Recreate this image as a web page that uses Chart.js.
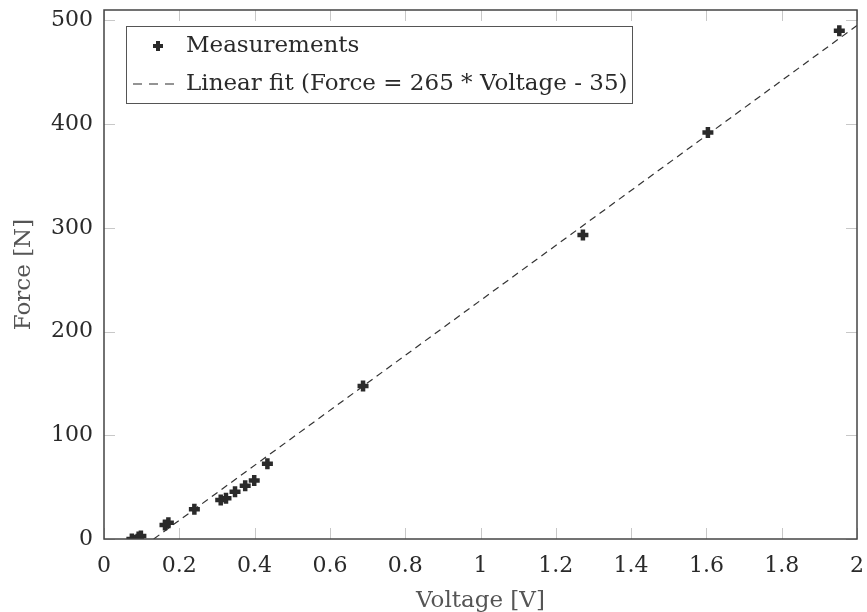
<!DOCTYPE html>
<html>
<head>
<meta charset="utf-8">
<script src="https://cdn.jsdelivr.net/npm/chart.js@4"></script>
<style>
  html, body { margin: 0; padding: 0; background: #fff; }
  #wrap { width: 867px; height: 612px; }
</style>
</head>
<body>
<div id="wrap"><canvas id="c" width="867" height="612"></canvas></div>
<script>
// ── Data ───────────────────────────────────────────────────────
const voltage = [0.074, 0.092, 0.098, 0.162, 0.171, 0.240, 0.310, 0.324, 0.348, 0.375, 0.399, 0.434, 0.688, 1.272, 1.604, 1.953];
const force   = [0, 2, 3, 13.5, 15.7, 28.6, 37.6, 39.2, 45.6, 51.4, 56.5, 72.5, 147.4, 293, 392, 490];

// fit line end points (Force = 265 * Voltage - 35)
const fitVoltage = [0.132, 2];
const fitForce   = [0, 495];

const xTicks = [0, 0.2, 0.4, 0.6, 0.8, 1, 1.2, 1.4, 1.6, 1.8, 2];
const yTicks = [0, 100, 200, 300, 400, 500];

const LABELS = ['Measurements', 'Linear fit (Force = 265 * Voltage - 35)'];
const FONT = '"DejaVu Serif", serif';
const INK = '#2a2a2a';

// ── Frame + inner ticks + legend ───────────────────────────────
const framePlugin = {
  id: 'frame',
  beforeDatasetsDraw(chart) {
    const { ctx, chartArea: a, scales } = chart;
    ctx.save();
    ctx.strokeStyle = '#c8c8c8';
    ctx.lineWidth = 1;
    const len = 11;
    xTicks.forEach(v => {
      const x = Math.round(scales.x.getPixelForValue(v)) + 0.5;
      ctx.beginPath();
      ctx.moveTo(x, a.bottom); ctx.lineTo(x, a.bottom - len);
      ctx.moveTo(x, a.top); ctx.lineTo(x, a.top + len);
      ctx.stroke();
    });
    yTicks.forEach(v => {
      const y = Math.round(scales.y.getPixelForValue(v)) + 0.5;
      ctx.beginPath();
      ctx.moveTo(a.left, y); ctx.lineTo(a.left + len, y);
      ctx.moveTo(a.right, y); ctx.lineTo(a.right - len, y);
      ctx.stroke();
    });
    ctx.restore();
  },
  afterDraw(chart) {
    const { ctx, chartArea: a } = chart;
    ctx.save();
    ctx.strokeStyle = '#444';
    ctx.lineWidth = 1.5;
    ctx.strokeRect(a.left, a.top, a.right - a.left, a.bottom - a.top);

    // legend box
    const bx = 126.5, by = 26.5, bw = 506, bh = 77;
    ctx.fillStyle = '#fff';
    ctx.fillRect(bx, by, bw, bh);
    ctx.lineWidth = 1;
    ctx.strokeStyle = '#555';
    ctx.strokeRect(bx, by, bw, bh);

    // marker
    ctx.strokeStyle = INK;
    ctx.lineWidth = 4;
    ctx.beginPath();
    ctx.moveTo(158 - 5, 46); ctx.lineTo(158 + 5, 46);
    ctx.moveTo(158, 46 - 5); ctx.lineTo(158, 46 + 5);
    ctx.stroke();

    // dashed sample
    ctx.lineWidth = 1.2;
    ctx.setLineDash([9, 7]);
    ctx.beginPath();
    ctx.moveTo(133, 84); ctx.lineTo(180, 84);
    ctx.stroke();
    ctx.setLineDash([]);

    ctx.fillStyle = INK;
    ctx.font = '23px ' + FONT;
    ctx.textBaseline = 'middle';
    ctx.fillText(LABELS[0], 186, 46);
    ctx.fillText(LABELS[1], 186, 84);
    ctx.restore();
  }
};

// ── Chart ──────────────────────────────────────────────────────
new Chart(document.getElementById('c'), {
  type: 'scatter',
  data: {
    datasets: [
      {
        label: LABELS[0],
        data: voltage.map((v, i) => ({ x: v, y: force[i] })),
        pointStyle: 'cross',
        pointRadius: 5.5,
        pointBorderWidth: 4.5,
        borderColor: INK,
        backgroundColor: INK,
        showLine: false,
      },
      {
        label: LABELS[1],
        data: fitVoltage.map((v, i) => ({ x: v, y: fitForce[i] })),
        showLine: true,
        borderColor: '#333',
        borderWidth: 1.2,
        borderDash: [7, 5],
        pointRadius: 0,
      },
    ],
  },
  options: {
    responsive: false,
    animation: false,
    layout: { padding: { top: 8, right: 9, left: 0, bottom: 0 } },
    plugins: { legend: { display: false }, tooltip: { enabled: false } },
    scales: {
      x: {
        type: 'linear',
        min: 0, max: 2,
        afterFit: s => { s.height = 73; s.paddingLeft = 0; s.paddingRight = 0; },
        afterBuildTicks: s => { s.ticks = xTicks.map(v => ({ value: v })); },
        grid: { display: false },
        border: { display: false },
        ticks: { color: INK, padding: 6, font: { family: FONT, size: 22 }, callback: v => String(v) },
        title: { display: true, text: 'Voltage [V]', color: '#555', padding: { top: -2.5, bottom: -2.5 }, font: { family: FONT, size: 23 } },
      },
      y: {
        type: 'linear',
        min: 0, max: 510,
        afterFit: s => { s.width = 104; s.paddingTop = 0; s.paddingBottom = 0; },
        afterBuildTicks: s => { s.ticks = yTicks.map(v => ({ value: v })); },
        grid: { display: false },
        border: { display: false },
        ticks: { color: INK, padding: 3, font: { family: FONT, size: 22 } },
        title: { display: true, text: 'Force [N]', color: '#555', padding: { top: 10, bottom: 10 }, font: { family: FONT, size: 23 } },
      },
    },
  },
  plugins: [framePlugin],
});
</script>
</body>
</html>
